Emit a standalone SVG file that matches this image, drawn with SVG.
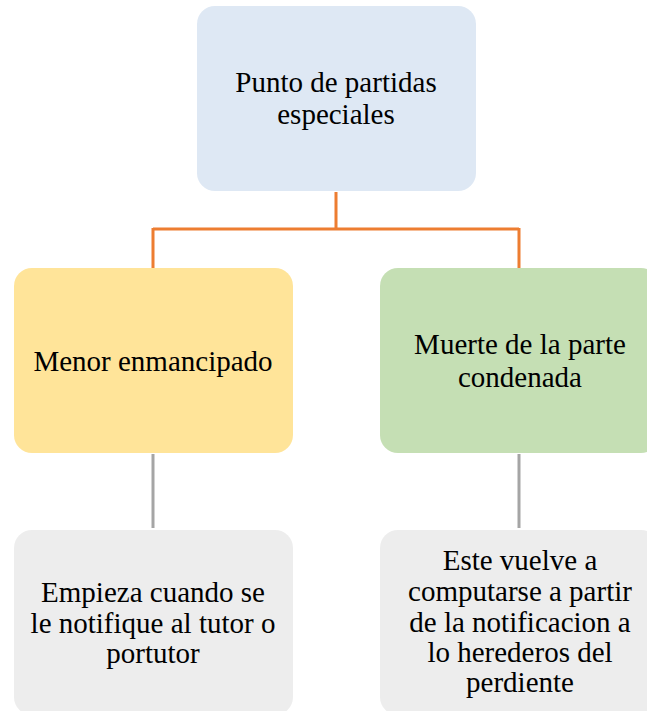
<svg xmlns="http://www.w3.org/2000/svg" width="647" height="711" viewBox="0 0 647 711">
<style>
.t{font-family:"Liberation Serif","Times New Roman",serif;font-size:29px;fill:#000;text-anchor:middle}
.o{stroke:#ED7D31;stroke-width:3;fill:none}
.g{stroke:#A5A5A5;stroke-width:3;fill:none}
</style>
<rect width="647" height="711" fill="#fff"/>
<g id="connectors">
<path class="o" d="M336,192 V229 M153,229 H519 M153,228 V268 M519,228 V268"/>
<path class="g" d="M153,454 V528 M519,454 V528"/>
</g>
<g id="root">
<rect x="197" y="6" width="279" height="185" rx="18" fill="#DEE8F4"/>
<text class="t" x="336" y="92">Punto de partidas</text>
<text class="t" x="336" y="124">especiales</text>
</g>
<g id="menor">
<rect x="14" y="268" width="279" height="185" rx="18" fill="#FFE499"/>
<text class="t" x="153" y="371">Menor enmancipado</text>
</g>
<g id="muerte">
<rect x="380" y="268" width="279" height="185" rx="18" fill="#C5DFB4"/>
<text class="t" x="520" y="354">Muerte de la parte</text>
<text class="t" x="520" y="387">condenada</text>
</g>
<g id="empieza">
<rect x="14" y="530" width="279" height="185" rx="18" fill="#EDEDED"/>
<text class="t" x="153" y="602">Empieza cuando se</text>
<text class="t" x="153" y="633">le notifique al tutor o</text>
<text class="t" x="153" y="663">portutor</text>
</g>
<g id="este">
<rect x="380" y="530" width="279" height="185" rx="18" fill="#EDEDED"/>
<text class="t" x="520" y="570">Este vuelve a</text>
<text class="t" x="520" y="601">computarse a partir</text>
<text class="t" x="520" y="632">de la notificacion a</text>
<text class="t" x="520" y="662">lo herederos del</text>
<text class="t" x="520" y="692">perdiente</text>
</g>
</svg>
